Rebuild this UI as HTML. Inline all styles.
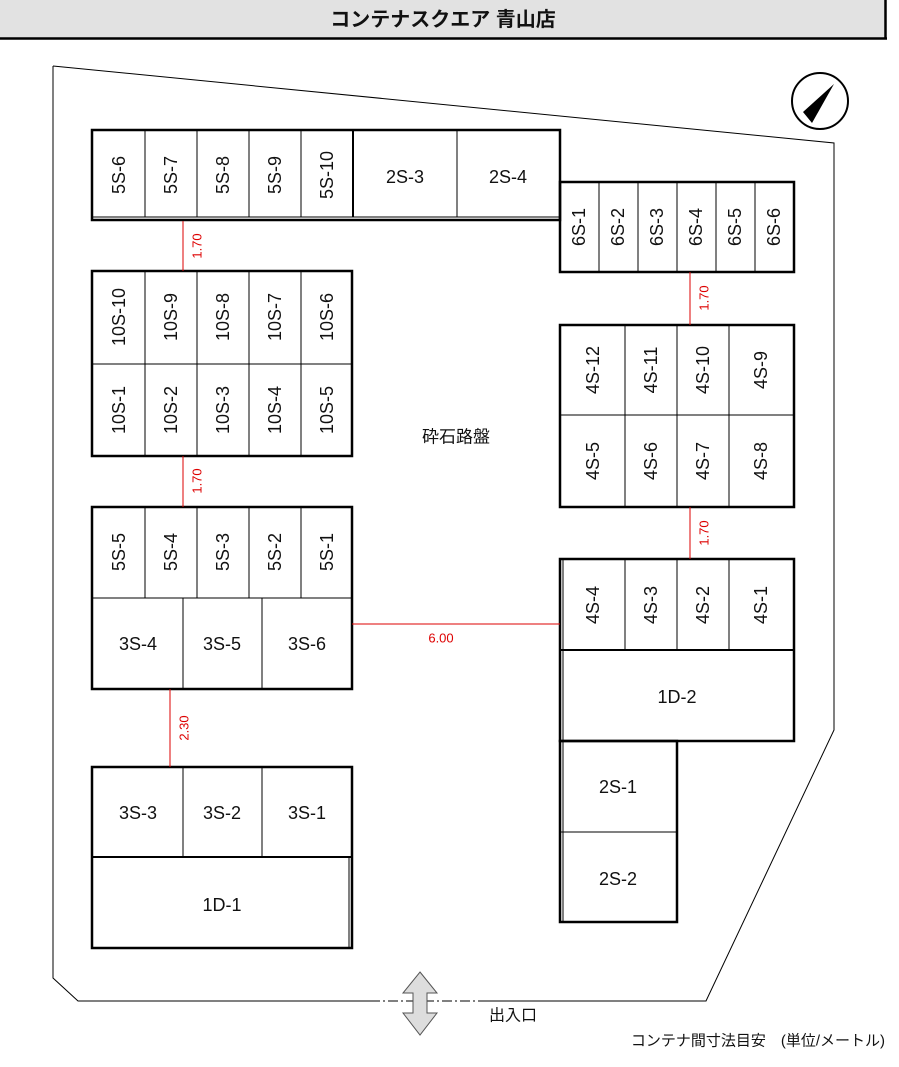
<!DOCTYPE html>
<html><head><meta charset="utf-8"><style>
body{margin:0;background:#fff;}
svg{display:block;font-family:"Liberation Sans","Noto Sans CJK JP",sans-serif;}
.c{fill:none;stroke:#000;stroke-width:1}
.o{fill:none;stroke:#000;stroke-width:2.5}
.t{font-size:18px;text-anchor:middle;dominant-baseline:central;fill:#111}
.r{stroke:#d00;stroke-width:1}
.rt{fill:#d00;font-size:13px;text-anchor:middle;dominant-baseline:central}
</style></head><body>
<svg width="899" height="1067" viewBox="0 0 899 1067">
<rect x="0" y="0" width="885" height="38" fill="#e2e2e2"/>
<line x1="0" y1="38.5" x2="887" y2="38.5" stroke="#000" stroke-width="2.5"/>
<line x1="885.5" y1="0" x2="885.5" y2="39" stroke="#000" stroke-width="2.5"/>
<text x="443" y="20" text-anchor="middle" dominant-baseline="central" font-size="20" font-weight="bold" fill="#111">コンテナスクエア 青山店</text>

<polyline points="53,66 53,978 78,1001 370,1001" fill="none" stroke="#000" stroke-width="1"/>
<polyline points="480,1001 706,1001 834,730 834,143 53,66" fill="none" stroke="#000" stroke-width="1"/>
<line x1="370" y1="1001" x2="480" y2="1001" stroke="#000" stroke-width="1" stroke-dasharray="10,3,2,3"/>

<circle cx="820" cy="101" r="28" fill="#fff" stroke="#000" stroke-width="2"/>
<polygon points="834,84 812,123 803,112" fill="#000"/>

<!-- top row -->
<rect class="o" x="92" y="130" width="468" height="90"/>
<line x1="92" y1="217" x2="560" y2="217" stroke="#000"/>
<g class="c"><line x1="145" y1="130" x2="145" y2="217"/><line x1="197" y1="130" x2="197" y2="217"/><line x1="249" y1="130" x2="249" y2="217"/><line x1="301" y1="130" x2="301" y2="217"/><line x1="353" y1="130" x2="353" y2="217" stroke-width="2"/><line x1="457" y1="130" x2="457" y2="217"/></g>
<g class="t">
<text transform="translate(119,175) rotate(-90)">5S-6</text>
<text transform="translate(171,175) rotate(-90)">5S-7</text>
<text transform="translate(223,175) rotate(-90)">5S-8</text>
<text transform="translate(275,175) rotate(-90)">5S-9</text>
<text transform="translate(327,175) rotate(-90)">5S-10</text>
<text x="405" y="177">2S-3</text>
<text x="508" y="177">2S-4</text>
</g>

<!-- 6S -->
<rect class="o" x="560" y="182" width="234" height="90"/>
<g class="c"><line x1="599" y1="182" x2="599" y2="272"/><line x1="638" y1="182" x2="638" y2="272"/><line x1="677" y1="182" x2="677" y2="272"/><line x1="716" y1="182" x2="716" y2="272"/><line x1="755" y1="182" x2="755" y2="272"/></g>
<g class="t">
<text transform="translate(579,227) rotate(-90)">6S-1</text>
<text transform="translate(618,227) rotate(-90)">6S-2</text>
<text transform="translate(657,227) rotate(-90)">6S-3</text>
<text transform="translate(696,227) rotate(-90)">6S-4</text>
<text transform="translate(735,227) rotate(-90)">6S-5</text>
<text transform="translate(774,227) rotate(-90)">6S-6</text>
</g>

<!-- 10S -->
<rect class="o" x="92" y="271" width="260" height="185"/>
<g class="c"><line x1="92" y1="364" x2="352" y2="364"/><line x1="145" y1="271" x2="145" y2="456"/><line x1="197" y1="271" x2="197" y2="456"/><line x1="249" y1="271" x2="249" y2="456"/><line x1="301" y1="271" x2="301" y2="456"/></g>
<g class="t">
<text transform="translate(119,317) rotate(-90)">10S-10</text>
<text transform="translate(171,317) rotate(-90)">10S-9</text>
<text transform="translate(223,317) rotate(-90)">10S-8</text>
<text transform="translate(275,317) rotate(-90)">10S-7</text>
<text transform="translate(327,317) rotate(-90)">10S-6</text>
<text transform="translate(119,410) rotate(-90)">10S-1</text>
<text transform="translate(171,410) rotate(-90)">10S-2</text>
<text transform="translate(223,410) rotate(-90)">10S-3</text>
<text transform="translate(275,410) rotate(-90)">10S-4</text>
<text transform="translate(327,410) rotate(-90)">10S-5</text>
</g>

<!-- 5S / 3S -->
<rect class="o" x="92" y="507" width="260" height="182"/>
<g class="c"><line x1="92" y1="598" x2="352" y2="598"/><line x1="145" y1="507" x2="145" y2="598"/><line x1="197" y1="507" x2="197" y2="598"/><line x1="249" y1="507" x2="249" y2="598"/><line x1="301" y1="507" x2="301" y2="598"/><line x1="183" y1="598" x2="183" y2="689"/><line x1="262" y1="598" x2="262" y2="689"/></g>
<g class="t">
<text transform="translate(119,552) rotate(-90)">5S-5</text>
<text transform="translate(171,552) rotate(-90)">5S-4</text>
<text transform="translate(223,552) rotate(-90)">5S-3</text>
<text transform="translate(275,552) rotate(-90)">5S-2</text>
<text transform="translate(327,552) rotate(-90)">5S-1</text>
<text x="138" y="644">3S-4</text>
<text x="222" y="644">3S-5</text>
<text x="307" y="644">3S-6</text>
</g>

<!-- 3S / 1D-1 -->
<rect class="o" x="92" y="767" width="260" height="181"/>
<line x1="349" y1="857" x2="349" y2="948" stroke="#000"/>
<g class="c"><line x1="92" y1="857" x2="352" y2="857" stroke-width="2"/><line x1="183" y1="767" x2="183" y2="857"/><line x1="262" y1="767" x2="262" y2="857"/></g>
<g class="t">
<text x="138" y="813">3S-3</text>
<text x="222" y="813">3S-2</text>
<text x="307" y="813">3S-1</text>
<text x="222" y="905">1D-1</text>
</g>

<!-- 4S top -->
<rect class="o" x="560" y="325" width="234" height="182"/>
<g class="c"><line x1="560" y1="415" x2="794" y2="415"/><line x1="625" y1="325" x2="625" y2="507"/><line x1="677" y1="325" x2="677" y2="507"/><line x1="729" y1="325" x2="729" y2="507"/></g>
<g class="t">
<text transform="translate(593,370) rotate(-90)">4S-12</text>
<text transform="translate(651,370) rotate(-90)">4S-11</text>
<text transform="translate(703,370) rotate(-90)">4S-10</text>
<text transform="translate(761,370) rotate(-90)">4S-9</text>
<text transform="translate(593,461) rotate(-90)">4S-5</text>
<text transform="translate(651,461) rotate(-90)">4S-6</text>
<text transform="translate(703,461) rotate(-90)">4S-7</text>
<text transform="translate(761,461) rotate(-90)">4S-8</text>
</g>

<!-- 4S bottom / 1D-2 / 2S -->
<rect class="o" x="560" y="559" width="234" height="182"/>
<line x1="563" y1="559" x2="563" y2="922" stroke="#000"/>
<g class="c"><line x1="560" y1="650" x2="794" y2="650" stroke-width="2"/><line x1="625" y1="559" x2="625" y2="650"/><line x1="677" y1="559" x2="677" y2="650"/><line x1="729" y1="559" x2="729" y2="650"/></g>
<rect class="o" x="560" y="741" width="117" height="181"/>
<line x1="560" y1="832" x2="677" y2="832" stroke="#000"/>
<g class="t">
<text transform="translate(593,605) rotate(-90)">4S-4</text>
<text transform="translate(651,605) rotate(-90)">4S-3</text>
<text transform="translate(703,605) rotate(-90)">4S-2</text>
<text transform="translate(761,605) rotate(-90)">4S-1</text>
<text x="677" y="697">1D-2</text>
<text x="618" y="787">2S-1</text>
<text x="618" y="879">2S-2</text>
</g>

<!-- dimensions -->
<line class="r" x1="183" y1="221" x2="183" y2="271"/>
<text class="rt" transform="translate(197,246) rotate(-90)">1.70</text>
<line class="r" x1="183" y1="456" x2="183" y2="507"/>
<text class="rt" transform="translate(197,481) rotate(-90)">1.70</text>
<line class="r" x1="170" y1="689" x2="170" y2="767"/>
<text class="rt" transform="translate(184,728) rotate(-90)">2.30</text>
<line class="r" x1="690" y1="272" x2="690" y2="325"/>
<text class="rt" transform="translate(704,298) rotate(-90)">1.70</text>
<line class="r" x1="690" y1="507" x2="690" y2="559"/>
<text class="rt" transform="translate(704,533) rotate(-90)">1.70</text>
<line class="r" x1="352" y1="624" x2="560" y2="624"/>
<text class="rt" x="441" y="638">6.00</text>

<text x="456" y="437" font-size="17" text-anchor="middle" dominant-baseline="central" fill="#111">砕石路盤</text>

<polygon points="420,972 437,993 427,993 427,1013 437,1013 420,1035 403,1013 413,1013 413,993 403,993" fill="#ddd" stroke="#555" stroke-width="1"/>
<text x="513" y="1016" font-size="16" text-anchor="middle" dominant-baseline="central" fill="#111">出入口</text>
<text x="885" y="1041" font-size="15" text-anchor="end" dominant-baseline="central" fill="#111">コンテナ間寸法目安　(単位/メートル)</text>
</svg>
</body></html>
